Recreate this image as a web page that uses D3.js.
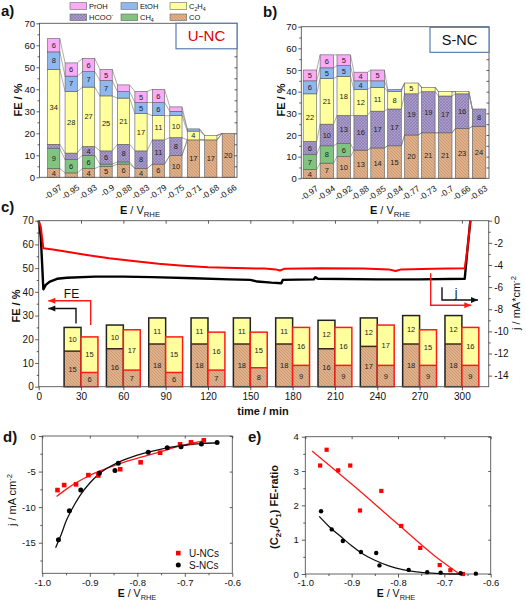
<!DOCTYPE html>
<html><head><meta charset="utf-8">
<script src="https://cdn.jsdelivr.net/npm/d3@7"></script>
<style>body{margin:0;background:#fff} svg{display:block}</style>
</head><body><svg id="c" width="526" height="603"></svg>
<script>
// ---------- DATA ----------
const seriesKeys = ["CO","CH4","HCOO","C2H4","EtOH","PrOH"];
// panel a (U-NC)
const catsA = ["-0.97","-0.95","-0.93","-0.9","-0.88","-0.83","-0.79","-0.75","-0.71","-0.68","-0.66"];
const coA   = [4,2,4,5,6,4,6,10,17,17,20];
const ch4A  = [9,6,6,1,1,0,0,0,0,0,0];
const hcooA = [2,3,4,6,8,8,11,8,0,0,0];
const c2h4A = [34,28,27,25,21,17,11,10,4,2,0];
const etohA = [8,7,7,7,3,5,6,2,1,0,0];
const prohA = [6,6,6,5,3,5,6,2,0,0,0];
// panel b (S-NC)
const catsB = ["-0.97","-0.94","-0.92","-0.88","-0.85","-0.84","-0.77","-0.73","-0.7","-0.66","-0.63"];
const coB   = [4,7,10,13,14,15,20,21,21,23,24];
const ch4B  = [7,8,6,0,0,0,0,0,0,0,0];
const hcooB = [6,10,13,16,17,17,19,19,17,16,8];
const c2h4B = [22,21,18,12,11,8,5,2,2,1,0];
const etohB = [6,5,5,4,3,1,0,0,0,0,0];
const prohB = [5,6,5,4,5,0,0,0,0,0,0];
// panel c
const timesC = [30,60,90,120,150,180,210,240,270,300];
const coBlack = [15,16,18,18,18,18,16,17,18,18];
const c2h4Black = [10,10,11,11,11,11,12,12,12,12];
const coRed = [6,7,6,7,8,9,9,9,9,9];
const c2h4Red = [15,17,15,16,15,16,16,17,15,16];
const jRed = [[0,0],[1.5,-0.6],[3.3,-2.5],[10,-2.6],[20,-2.8],[34,-3.1],[50,-3.4],[67,-3.65],[85,-3.9],[100,-4.05],[120,-4.2],[140,-4.28],[160,-4.33],[168,-4.4],[171,-4.5],[174,-4.35],[200,-4.3],[230,-4.33],[248,-4.4],[253,-4.55],[257,-4.4],[280,-4.35],[302,-4.3],[304,-2.5],[306,0]];
const jBlack = [[0,0],[1.5,-1.5],[3.3,-6.2],[5,-5.8],[8,-5.5],[13,-5.25],[20,-5.15],[40,-5.05],[60,-5.05],[80,-5.1],[110,-5.2],[135,-5.3],[150,-5.35],[155,-5.5],[165,-5.6],[172,-5.65],[173,-5.35],[195,-5.3],[196,-5.1],[198,-5.25],[240,-5.3],[270,-5.3],[302,-5.25],[304,-2.5],[306,0]];
// panel d
const dE_U = [-0.968,-0.954,-0.929,-0.903,-0.882,-0.836,-0.793,-0.752,-0.71,-0.687,-0.66];
const dJ_U = [-7.6,-6.9,-6.8,-5.5,-5.55,-4.67,-3.7,-2.35,-1.17,-0.89,-0.61];
const dE_S = [-0.966,-0.943,-0.919,-0.880,-0.847,-0.840,-0.777,-0.737,-0.708,-0.665,-0.632];
const dJ_S = [-14.6,-10.5,-7.6,-5.23,-4.86,-3.83,-2.29,-1.64,-1.5,-1.12,-0.93];
const dFitU = [[-0.97,-8.5],[-0.95,-7.5],[-0.93,-6.6],[-0.90,-5.55],[-0.88,-4.95],[-0.85,-4.2],[-0.82,-3.5],[-0.79,-2.95],[-0.75,-2.2],[-0.71,-1.4],[-0.68,-0.95],[-0.66,-0.7]];
const dFitS = [[-0.972,-15.7],[-0.96,-13.8],[-0.95,-12.0],[-0.94,-10.6],[-0.92,-8.3],[-0.90,-6.6],[-0.88,-5.3],[-0.86,-4.4],[-0.84,-3.7],[-0.80,-2.7],[-0.77,-2.15],[-0.74,-1.7],[-0.70,-1.3],[-0.66,-1.05],[-0.63,-0.95]];
// panel e
const eR_U = [3.16,3.62,3.02,3.16,1.85,2.42,1.40,0.76,0.26,0.11,0.0];
const eR_S = [1.83,1.30,0.96,0.64,0.61,0.25,0.12,0.05,0.04,0.02,0.01];
const eFitU = [[-0.985,3.58],[-0.90,2.62],[-0.80,1.45],[-0.72,0.52],[-0.667,0.0]];
const eFitS = [[-0.97,1.68],[-0.95,1.40],[-0.92,1.05],[-0.90,0.82],[-0.88,0.62],[-0.85,0.40],[-0.82,0.24],[-0.79,0.13],[-0.76,0.06],[-0.72,0.02],[-0.68,0.0],[-0.66,0.0]];

// ---------- SETUP ----------
const FONT = "'Liberation Sans', Arial, sans-serif";
const svg = d3.select("#c").attr("font-family", FONT);
svg.append("rect").attr("width",526).attr("height",603).attr("fill","#fff");
const defs = svg.append("defs");
function hatch(id, bg, fg, cross){
  const p = defs.append("pattern").attr("id",id).attr("patternUnits","userSpaceOnUse").attr("width",3).attr("height",3);
  p.append("rect").attr("width",3).attr("height",3).attr("fill",bg);
  p.append("path").attr("d","M-1,-1 L4,4 M2,-1 L4,1 M-1,2 L1,4").attr("stroke",fg).attr("stroke-width",0.55);
  if(cross) p.append("path").attr("d","M-1,4 L4,-1 M-1,1 L1,-1 M2,4 L4,2").attr("stroke",fg).attr("stroke-width",0.55);
}
hatch("pCO","#e0b08a","#b98a62",false);
hatch("pHC","#a99bcb","#8576ab",true);
const fills = {CO:"url(#pCO)",CH4:"#80c480",HCOO:"url(#pHC)",C2H4:"#ffff9e",EtOH:"#8fb8ee",PrOH:"#fbaaf6"};
const hy = s => String(s).replace("\u2212","-");

function styleAxis(s,size){
  s.attr("font-family",FONT).attr("font-size",size);
  s.select(".domain").remove();
  s.selectAll(".tick line").attr("stroke","#333").attr("stroke-width",0.8);
  s.selectAll(".tick text").attr("fill","#111");
}
function rich(parent,x,y,size,parts,opts={}){
  const t = parent.append("text").attr("x",x).attr("y",y).attr("font-size",size)
    .attr("font-family",FONT).attr("text-anchor",opts.anchor||"middle").attr("fill",opts.fill||"#111");
  if(opts.rotate) t.attr("transform",`rotate(${opts.rotate},${x},${y})`);
  if(opts.bold) t.attr("font-weight","bold");
  let shift=0;
  parts.forEach(([s,f])=>{
    f=f||{};
    const ts=t.append("tspan").text(s);
    let target=0;
    if(f.sub) target=size*0.3;
    if(f.sup) target=-size*0.4;
    if(target!==shift){ts.attr("dy",target-shift);shift=target;}
    if(f.sub||f.sup) ts.attr("font-size",size*0.7);
    if(f.b) ts.attr("font-weight","bold");
  });
  return t;
}
function frame(g,x0,x1,y0,y1){
  g.append("rect").attr("x",x0).attr("y",y0).attr("width",x1-x0).attr("height",y1-y0)
   .attr("fill","none").attr("stroke","#555").attr("stroke-width",0.9);
}

// ---------- PANELS a / b ----------
function stackPanel(cfg){
  const g = svg.append("g");
  const x = d3.scaleBand().domain(cfg.cats).range(cfg.xr).paddingInner(cfg.pad).paddingOuter(cfg.pad/2);
  const y = d3.scaleLinear().domain([0,70]).range(cfg.yr);
  const rows = cfg.cats.map((c,i)=>{const o={cat:c}; seriesKeys.forEach((k,j)=>o[k]=cfg.vals[j][i]); return o;});
  const stacked = d3.stack().keys(seriesKeys)(rows);
  const bw = x.bandwidth();
  stacked.forEach(layer=>{
    for(let i=0;i<layer.length-1;i++){
      g.append("line").attr("x1",x(rows[i].cat)+bw).attr("y1",y(layer[i][1]))
       .attr("x2",x(rows[i+1].cat)).attr("y2",y(layer[i+1][1]))
       .attr("stroke","#8a8a8a").attr("stroke-width",0.7);
    }
  });
  stacked.forEach(layer=>{
    const k = layer.key;
    const data = layer.filter(d=>d[1]-d[0]>0);
    g.selectAll(null).data(data).join("rect")
      .attr("x",d=>x(d.data.cat)).attr("y",d=>y(d[1])).attr("width",bw).attr("height",d=>y(d[0])-y(d[1]))
      .attr("fill",fills[k]).attr("stroke","#5a5a5a").attr("stroke-width",0.6);
    g.selectAll(null).data(data.filter(d=>d[1]-d[0]>=4)).join("text")
      .attr("x",d=>x(d.data.cat)+bw/2).attr("y",d=>(y(d[0])+y(d[1]))/2+2.6)
      .attr("text-anchor","middle").attr("font-size",7.5).attr("fill","#222").text(d=>d[1]-d[0]);
  });
  frame(g,cfg.fx0,cfg.fx1,cfg.yr[1],cfg.yr[0]);
  g.append("g").attr("transform",`translate(${cfg.fx0},0)`)
    .call(d3.axisLeft(y).tickValues(d3.range(0,71,10)).tickSize(3).tickPadding(1.5)).call(s=>styleAxis(s,9.5));
  g.append("g").attr("transform",`translate(${cfg.fx0},0)`)
    .call(d3.axisLeft(y).tickValues(d3.range(5,70,10)).tickSize(2).tickFormat("")).call(s=>styleAxis(s,9));
  g.append("g").attr("transform",`translate(${cfg.fx1},0)`)
    .call(d3.axisLeft(y).tickValues(d3.range(5,70,5)).tickSize(2.5).tickFormat("")).call(s=>styleAxis(s,9));
  cfg.cats.forEach(c=>{
    const cx = x(c)+bw/2, ty = cfg.yr[0]+11.5;
    g.append("text").attr("x",cx+9).attr("y",ty).attr("text-anchor","end").attr("font-size",8.5)
     .attr("transform",`rotate(-35,${cx+9},${ty})`).attr("fill","#111").text(c);
  });
  rich(g,cfg.titleX,214,11,[["E",{b:1}],[" / V"],["RHE",{sub:1}]]);
  rich(g,cfg.ylabX,cfg.ylabY,11,[["FE / %"]],{rotate:-90,bold:1});
  g.append("rect").attr("x",cfg.box[0]).attr("y",cfg.box[1]).attr("width",cfg.box[2]).attr("height",cfg.box[3])
    .attr("fill","#fff").attr("stroke","#4a72a8").attr("stroke-width",1.1);
  g.append("text").attr("x",cfg.box[0]+cfg.box[2]/2).attr("y",cfg.box[1]+cfg.box[3]/2+5.3)
    .attr("text-anchor","middle").attr("font-size",cfg.nameSize).attr("fill",cfg.nameColor).text(cfg.name);
}
stackPanel({cats:catsA, vals:[coA,ch4A,hcooA,c2h4A,etohA,prohA], xr:[45,237], pad:0.3, yr:[177.3,23.3],
  fx0:39.5, fx1:237, titleX:140, ylabX:22, ylabY:100, box:[176,23.3,61,25.5], name:"U-NC", nameColor:"#e00000", nameSize:15});
stackPanel({cats:catsB, vals:[coB,ch4B,hcooB,c2h4B,etohB,prohB], xr:[301.5,487.5], pad:0.2, yr:[178.3,26.7],
  fx0:301.3, fx1:489, titleX:390, ylabX:285, ylabY:100, box:[430,27.3,59,25], name:"S-NC", nameColor:"#111", nameSize:14.5});

// legend
const legItems = [["PrOH",70,2.7],["EtOH",121,2.7],["C2H4",170,2.7],["HCOO",70,14],["CH4",121,14],["CO",170,14]];
const legLabels = {PrOH:[["PrOH"]],EtOH:[["EtOH"]],C2H4:[["C"],["2",{sub:1}],["H"],["4",{sub:1}]],HCOO:[["HCOO"],["-",{sup:1}]],CH4:[["CH"],["4",{sub:1}]],CO:[["CO"]]};
legItems.forEach(([k,lx,ly])=>{
  svg.append("rect").attr("x",lx).attr("y",ly).attr("width",16.7).attr("height",6.6).attr("fill",fills[k]).attr("stroke","#666").attr("stroke-width",0.6);
  rich(svg,lx+19,ly+6.2,7.5,legLabels[k],{anchor:"start"});
});
// panel letters
[["a)",1,16],["b)",263,17],["c)",1,212],["d)",3,442],["e)",248,442]].forEach(([t,x,y])=>
  svg.append("text").attr("x",x).attr("y",y).attr("font-size",15).attr("font-weight","bold").attr("fill","#111").text(t));

// ---------- PANEL c ----------
{
  const g = svg.append("g");
  const X0=38.7, X1=488.7, Y0=386.7, Y1=220.7;
  const x = d3.scaleLinear().domain([0,319]).range([X0,X1]);
  const yL = d3.scaleLinear().domain([0,70]).range([Y0,Y1]);
  const yR = d3.scaleLinear().domain([-15,0]).range([Y0,Y1]);
  const W = 12;
  timesC.forEach((t,i)=>{
    const xa=x(t-W), xb=x(t);
    g.append("rect").attr("x",xa).attr("y",yL(coBlack[i])).attr("width",xb-xa).attr("height",Y0-yL(coBlack[i])).attr("fill","url(#pCO)");
    g.append("rect").attr("x",xa).attr("y",yL(coBlack[i]+c2h4Black[i])).attr("width",xb-xa).attr("height",yL(coBlack[i])-yL(coBlack[i]+c2h4Black[i])).attr("fill","#ffff9e");
    g.append("rect").attr("x",xa).attr("y",yL(coBlack[i]+c2h4Black[i])).attr("width",xb-xa).attr("height",Y0-yL(coBlack[i]+c2h4Black[i])).attr("fill","none").attr("stroke","#222").attr("stroke-width",1.5);
    g.append("line").attr("x1",xa).attr("x2",xb).attr("y1",yL(coBlack[i])).attr("y2",yL(coBlack[i])).attr("stroke","#3a2a1a").attr("stroke-width",1.5);
    g.append("text").attr("x",(xa+xb)/2).attr("y",(Y0+yL(coBlack[i]))/2+2.6).attr("text-anchor","middle").attr("font-size",7.5).attr("fill","#222").text(coBlack[i]);
    g.append("text").attr("x",(xa+xb)/2).attr("y",(yL(coBlack[i])+yL(coBlack[i]+c2h4Black[i]))/2+2.6).attr("text-anchor","middle").attr("font-size",7.5).attr("fill","#222").text(c2h4Black[i]);
    const xc=x(t), xd=x(t+W);
    g.append("rect").attr("x",xc).attr("y",yL(coRed[i])).attr("width",xd-xc).attr("height",Y0-yL(coRed[i])).attr("fill","url(#pCO)");
    g.append("rect").attr("x",xc).attr("y",yL(coRed[i]+c2h4Red[i])).attr("width",xd-xc).attr("height",yL(coRed[i])-yL(coRed[i]+c2h4Red[i])).attr("fill","#ffff9e");
    g.append("rect").attr("x",xc).attr("y",yL(coRed[i]+c2h4Red[i])).attr("width",xd-xc).attr("height",Y0-yL(coRed[i]+c2h4Red[i])).attr("fill","none").attr("stroke","#ff1a1a").attr("stroke-width",1.5);
    g.append("line").attr("x1",xc).attr("x2",xd).attr("y1",yL(coRed[i])).attr("y2",yL(coRed[i])).attr("stroke","#ff1a1a").attr("stroke-width",1.5);
    g.append("text").attr("x",(xc+xd)/2).attr("y",(Y0+yL(coRed[i]))/2+2.6).attr("text-anchor","middle").attr("font-size",7.5).attr("fill","#222").text(coRed[i]);
    g.append("text").attr("x",(xc+xd)/2).attr("y",(yL(coRed[i])+yL(coRed[i]+c2h4Red[i]))/2+2.6).attr("text-anchor","middle").attr("font-size",7.5).attr("fill","#222").text(c2h4Red[i]);
  });
  const ln = d3.line().x(d=>x(d[0])).y(d=>yR(d[1]));
  g.append("path").attr("d",ln(jBlack)).attr("fill","none").attr("stroke","#000").attr("stroke-width",2.4).attr("stroke-linejoin","round");
  g.append("path").attr("d",ln(jRed)).attr("fill","none").attr("stroke","#ff0000").attr("stroke-width",2).attr("stroke-linejoin","round");
  frame(g,X0,X1,Y1,Y0);
  g.append("g").attr("transform",`translate(${X0},0)`).call(d3.axisLeft(yL).tickValues(d3.range(0,71,10)).tickSize(3.5).tickPadding(1.5)).call(s=>styleAxis(s,10));
  g.append("g").attr("transform",`translate(${X0},0)`).call(d3.axisLeft(yL).tickValues(d3.range(5,70,10)).tickSize(2).tickFormat("")).call(s=>styleAxis(s,10));
  g.append("g").attr("transform",`translate(${X1},0)`).call(d3.axisRight(yR).tickValues(d3.range(0,-15,-2)).tickSize(3.5).tickPadding(2).tickFormat(hy)).call(s=>styleAxis(s,10));
  g.append("g").attr("transform",`translate(${X1},0)`).call(d3.axisRight(yR).tickValues(d3.range(-1,-15,-2)).tickSize(2).tickFormat("")).call(s=>styleAxis(s,10));
  g.append("g").attr("transform",`translate(0,${Y0})`).call(d3.axisBottom(x).tickValues(d3.range(0,301,30)).tickSize(3.5).tickPadding(3)).call(s=>styleAxis(s,10));
  g.append("g").attr("transform",`translate(0,${Y1})`).call(d3.axisBottom(x).tickValues(d3.range(30,301,30)).tickSize(3).tickFormat("")).call(s=>styleAxis(s,10));
  rich(g,263,415,11,[["time / min"]],{bold:1});
  rich(g,20,306,11,[["FE / %"]],{rotate:-90,bold:1});
  rich(g,520,303,11,[["j / mA*cm"],["-2",{sup:1}]],{rotate:-90});
  function arrow(pts,color,dir){
    g.append("path").attr("d",d3.line()(pts)).attr("fill","none").attr("stroke",color).attr("stroke-width",1.4);
    const [tx,ty]=pts[pts.length-1];
    const s = dir==="left"?1:-1;
    g.append("path").attr("d",`M${tx},${ty} L${tx+s*7},${ty-3} L${tx+s*7},${ty+3} Z`).attr("fill",color);
  }
  arrow([[90.7,325],[90.7,300.7],[48.3,300.7]],"#ff1a1a","left");
  arrow([[76,323.5],[76,308.5],[48.3,308.5]],"#111","left");
  arrow([[442,287.3],[442,300],[478,300]],"#111","right");
  arrow([[430.7,273.3],[430.7,305.3],[471.3,305.3]],"#ff1a1a","right");
  g.append("text").attr("x",71.5).attr("y",298).attr("text-anchor","middle").attr("font-size",12).attr("fill","#111").text("FE");
  g.append("text").attr("x",456).attr("y",297).attr("text-anchor","middle").attr("font-size",12).attr("fill","#111").text("j");
}

// ---------- PANELS d / e ----------
function xyAxes(g,x,y,X0,X1,Y0,Y1,yMaj,yMin,yFmt){
  frame(g,X0,X1,Y1,Y0);
  g.append("g").attr("transform",`translate(${X0},0)`).call(d3.axisLeft(y).tickValues(yMaj).tickSize(3.5).tickPadding(3).tickFormat(yFmt)).call(s=>styleAxis(s,9.5));
  g.append("g").attr("transform",`translate(${X0},0)`).call(d3.axisLeft(y).tickValues(yMin).tickSize(2).tickFormat("")).call(s=>styleAxis(s,10));
  g.append("g").attr("transform",`translate(${X1},0)`).call(d3.axisLeft(y).tickValues(yMaj).tickSize(2.5).tickFormat("")).call(s=>styleAxis(s,10));
  const xt=[-1.0,-0.9,-0.8,-0.7,-0.6], xm=[-0.95,-0.85,-0.75,-0.65];
  g.append("g").attr("transform",`translate(0,${Y0})`).call(d3.axisBottom(x).tickValues(xt).tickSize(3.5).tickPadding(2).tickFormat(d=>hy(d3.format(".1f")(d)))).call(s=>styleAxis(s,9.5));
  g.append("g").attr("transform",`translate(0,${Y0})`).call(d3.axisBottom(x).tickValues(xm).tickSize(2).tickFormat("")).call(s=>styleAxis(s,10));
  g.append("g").attr("transform",`translate(0,${Y1})`).call(d3.axisBottom(x).tickValues(xt).tickSize(2.5).tickFormat("")).call(s=>styleAxis(s,10));
}
{
  const g = svg.append("g");
  const X0=42.3, X1=232.3, Y0=573.3, Y1=436;
  const x = d3.scaleLinear().domain([-1.0,-0.6]).range([X0,X1]);
  const y = d3.scaleLinear().domain([-19.3,0]).range([Y0,Y1]);
  xyAxes(g,x,y,X0,X1,Y0,Y1,[0,-5,-10,-15],[-2.5,-7.5,-12.5,-17.5],d=>hy(d));
  const ln = d3.line().x(d=>x(d[0])).y(d=>y(d[1])).curve(d3.curveMonotoneX);
  g.append("path").attr("d",ln(dFitU)).attr("fill","none").attr("stroke","#ff1a1a").attr("stroke-width",1.3);
  g.append("path").attr("d",ln(dFitS)).attr("fill","none").attr("stroke","#111").attr("stroke-width",1.3);
  g.selectAll(null).data(dE_U.map((e,i)=>[e,dJ_U[i]])).join("rect")
    .attr("x",d=>x(d[0])-2.3).attr("y",d=>y(d[1])-2.3).attr("width",4.6).attr("height",4.6).attr("fill","#ff0000");
  g.selectAll(null).data(dE_S.map((e,i)=>[e,dJ_S[i]])).join("circle")
    .attr("cx",d=>x(d[0])).attr("cy",d=>y(d[1])).attr("r",2.5).attr("fill","#000");
  g.append("rect").attr("x",176).attr("y",550.8).attr("width",4.6).attr("height",4.6).attr("fill","#ff0000");
  g.append("circle").attr("cx",178.3).attr("cy",565).attr("r",2.5).attr("fill","#000");
  g.append("text").attr("x",189).attr("y",557).attr("font-size",10).attr("fill","#111").text("U-NCs");
  g.append("text").attr("x",189).attr("y",569).attr("font-size",10).attr("fill","#111").text("S-NCs");
  rich(g,137,597,10.5,[["E",{b:1}],[" / V"],["RHE",{sub:1}]]);
  rich(g,16,500,11,[["j / mA cm"],["-2",{sup:1}]],{rotate:-90});
}
{
  const g = svg.append("g");
  const X0=305.3, X1=490.7, Y0=574, Y1=436.7;
  const x = d3.scaleLinear().domain([-1.0,-0.6]).range([X0,X1]);
  const y = d3.scaleLinear().domain([0,4]).range([Y0,Y1]);
  xyAxes(g,x,y,X0,X1,Y0,Y1,[0,1,2,3,4],[0.5,1.5,2.5,3.5],d=>d);
  const ln = d3.line().x(d=>x(d[0])).y(d=>y(d[1])).curve(d3.curveMonotoneX);
  g.append("path").attr("d",ln(eFitU)).attr("fill","none").attr("stroke","#ff1a1a").attr("stroke-width",1.3);
  g.append("path").attr("d",ln(eFitS)).attr("fill","none").attr("stroke","#111").attr("stroke-width",1.3);
  g.selectAll(null).data(dE_U.map((e,i)=>[e,eR_U[i]])).join("rect")
    .attr("x",d=>x(d[0])-2.1).attr("y",d=>y(d[1])-2.1).attr("width",4.2).attr("height",4.2).attr("fill","#ff0000");
  g.selectAll(null).data(dE_S.map((e,i)=>[e,eR_S[i]])).join("circle")
    .attr("cx",d=>x(d[0])).attr("cy",d=>y(d[1])).attr("r",2.2).attr("fill","#000");
  rich(g,396,597,10.5,[["E",{b:1}],[" / V"],["RHE",{sub:1}]]);
  rich(g,278,507,11,[["(C"],["2+",{sub:1}],["/C"],["1",{sub:1}],[") FE-ratio"]],{rotate:-90,bold:1});
}
</script></body></html>
